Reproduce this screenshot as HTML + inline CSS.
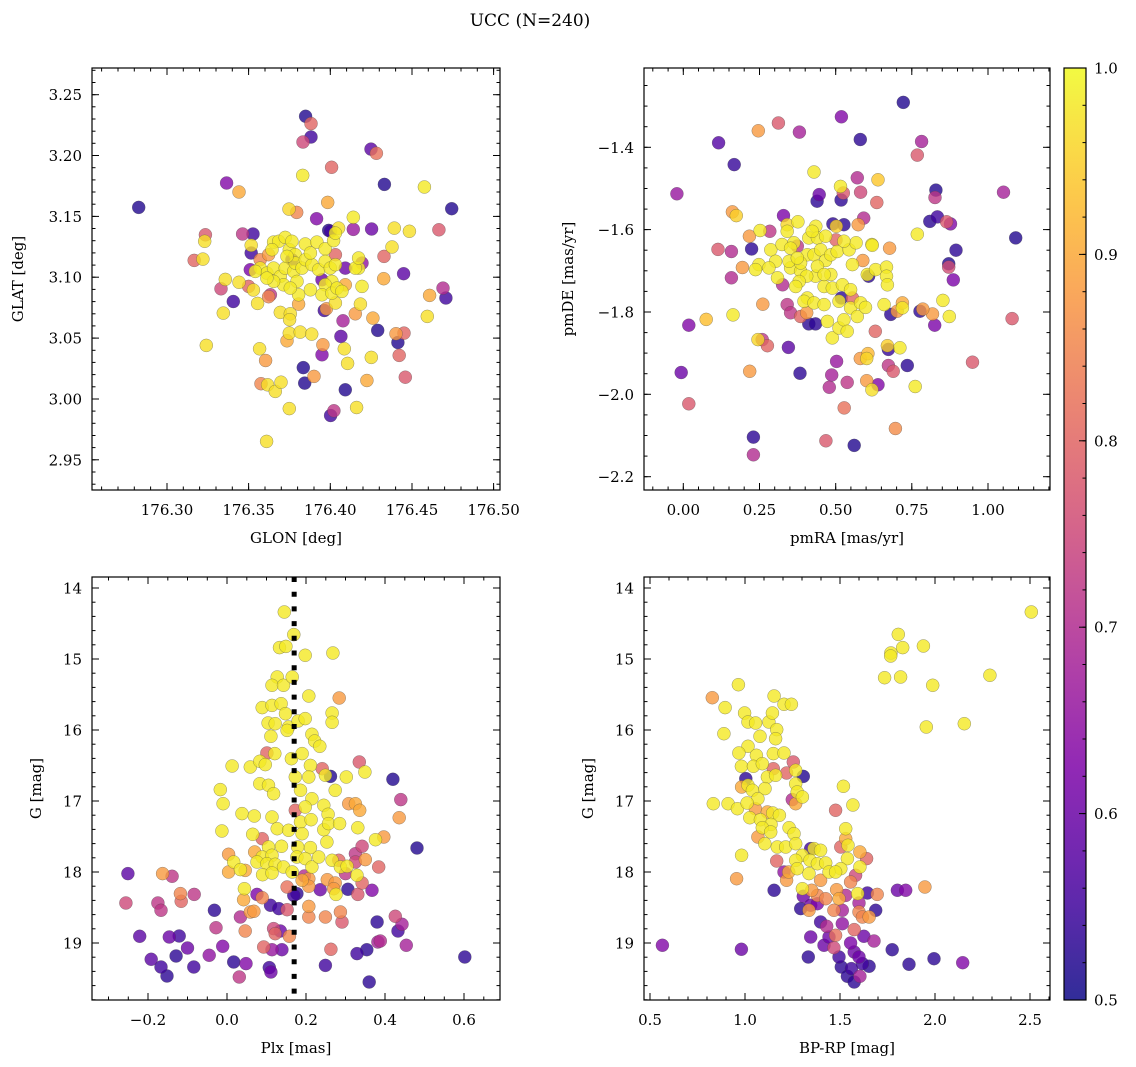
<!DOCTYPE html>
<html><head><meta charset="utf-8"><title>UCC (N=240)</title>
<style>
html,body{margin:0;padding:0;background:#fff;}
svg{display:block;font-family:"DejaVu Serif","Liberation Serif",serif;}
</style></head>
<body>
<svg id="fig" width="1136" height="1067" viewBox="0 0 1136 1067" xmlns="http://www.w3.org/2000/svg">
<text x="530" y="26" text-anchor="middle" font-size="17">UCC (N=240)</text>
</svg>
<script>
// ---- data: [x, y, probability] ----
const tlPts = [
[176.2827,3.1574,.52],[176.3849,3.2322,.52],[176.3882,3.2262,.8],[176.3882,3.2152,.55],[176.3833,3.2111,.75],
[176.4249,3.2053,.58],[176.4282,3.2018,.82],[176.4008,3.1903,.8],[176.3831,3.1837,.98],[176.3365,3.1774,.63],
[176.3441,3.1700,.9],[176.4331,3.1763,.52],[176.4576,3.1741,.98],[176.4743,3.1563,.52],[176.3984,3.1615,.9],
[176.3747,3.1560,.96],[176.3794,3.1533,.85],[176.3916,3.1481,.63],[176.4141,3.1492,.98],[176.4141,3.1393,.66],
[176.4253,3.1396,.6],[176.4392,3.1404,.97],[176.4484,3.1377,.97],[176.4665,3.1390,.78],[176.4002,3.1377,.55],
[176.4051,3.1404,.97],[176.3235,3.1349,.78],[176.3231,3.1295,.97],[176.3463,3.1355,.72],[176.3527,3.1355,.55],
[176.3516,3.1262,.97],[176.3516,3.1199,.55],[176.3167,3.1138,.8],[176.3220,3.1149,.97],[176.4378,3.1248,.97],
[176.4329,3.1171,.8],[176.4449,3.1029,.58],[176.4327,3.0988,.9],[176.4690,3.0911,.7],[176.4708,3.0829,.55],
[176.4608,3.0851,.9],[176.4594,3.0678,.97],[176.3357,3.0982,.97],[176.3331,3.0905,.75],[176.3406,3.0801,.55],
[176.3345,3.0705,.97],[176.3441,3.0958,.97],[176.3500,3.0925,.8],[176.3529,3.0895,.97],[176.3555,3.0785,.97],
[176.3622,3.0840,.85],[176.3633,3.0856,.72],[176.3694,3.0711,.97],[176.3755,3.0700,.97],[176.3751,3.0651,.97],
[176.3806,3.0779,.9],[176.3963,3.0727,.55],[176.3976,3.0741,.88],[176.4031,3.0788,.97],[176.4153,3.0700,.88],
[176.4184,3.0779,.97],[176.4261,3.0664,.9],[176.4078,3.0642,.68],[176.4290,3.0563,.52],[176.4402,3.0536,.88],
[176.4451,3.0541,.8],[176.4414,3.0464,.52],[176.4422,3.0358,.8],[176.4459,3.0179,.78],[176.4065,3.0514,.58],
[176.4086,3.0412,.97],[176.3949,3.0363,.63],[176.3955,3.0445,.88],[176.4106,3.0292,.97],[176.4251,3.0341,.97],
[176.4224,3.0152,.9],[176.4092,3.0075,.52],[176.4161,2.9930,.97],[176.4002,2.9864,.55],[176.4022,2.9903,.72],
[176.3241,3.0440,.97],[176.3567,3.0412,.97],[176.3604,3.0316,.88],[176.3576,3.0125,.85],[176.3616,3.0116,.97],
[176.3663,3.0062,.97],[176.3698,3.0138,.97],[176.3749,2.9921,.97],[176.3610,2.9651,.97],[176.3735,3.0478,.9],
[176.3749,3.0541,.97],[176.3816,3.0549,.97],[176.3886,3.0533,.97],[176.3835,3.0258,.52],[176.3843,3.0130,.52],
[176.3900,3.0185,.88],
[176.3653,3.1289,.98],[176.3684,3.1295,.98],[176.3724,3.1327,.98],[176.3749,3.1226,.98],[176.3786,3.1185,.98],
[176.3847,3.1273,.98],[176.3918,3.1289,.98],[176.3969,3.1234,.98],[176.4020,3.1300,.98],[176.4031,3.1363,.98],
[176.3571,3.1075,.98],[176.3612,3.1034,.98],[176.3653,3.1075,.98],[176.3694,3.1007,.98],[176.3724,3.1075,.98],
[176.3776,3.1048,.98],[176.3786,3.1116,.98],[176.3827,3.1075,.98],[176.3847,3.1144,.98],[176.3888,3.1103,.98],
[176.3929,3.1062,.98],[176.3969,3.1130,.98],[176.4000,3.1075,.98],[176.4031,3.1103,.98],[176.4010,3.0966,.98],
[176.3969,3.0938,.98],[176.3949,3.0856,.98],[176.4010,3.0870,.98],[176.4041,3.0911,.98],[176.4071,3.0884,.98],
[176.3878,3.0897,.98],[176.3806,3.0856,.98],[176.3714,3.0938,.98],[176.3653,3.0966,.98],[176.3612,3.0993,.98],
[176.3541,3.1048,.98],[176.4173,3.1075,.98],[176.4194,3.0925,.98],[176.4153,3.1075,.98],[176.4173,3.1158,.98],
[176.3735,3.1171,.98],[176.3878,3.1199,.98],[176.3796,3.0966,.98],[176.3755,3.0911,.98],[176.3643,3.1226,.98],
[176.3765,3.1295,.98],
[176.3571,3.1144,.85],[176.3622,3.1185,.88],[176.4031,3.1185,.8],[176.4092,3.1075,.6],[176.4194,3.1116,.65],
[176.4092,3.0938,.9],[176.3949,3.0979,.6],[176.3765,3.1144,.55],[176.3510,3.1062,.62],[176.3990,3.1385,.52]
];
const trPts = [
[.722,-1.291,.52],[.519,-1.326,.63],[.312,-1.341,.78],[.246,-1.360,.88],[.381,-1.363,.68],[.116,-1.389,.57],
[.581,-1.381,.53],[.782,-1.386,.68],[.768,-1.419,.78],[.167,-1.442,.54],[.429,-1.460,.98],[-.021,-1.513,.66],
[.571,-1.474,.7],[.639,-1.479,.94],[.516,-1.495,.98],[.525,-1.511,.78],[.582,-1.509,.75],[.446,-1.515,.6],
[.439,-1.531,.53],[.518,-1.528,.53],[.635,-1.534,.8],[.829,-1.504,.52],[.826,-1.522,.72],[1.051,-1.509,.68],
[1.091,-1.620,.52],[.809,-1.580,.53],[.834,-1.569,.55],[.864,-1.581,.78],[.877,-1.586,.63],[.895,-1.650,.53],
[.871,-1.683,.52],[.871,-1.691,.76],[.886,-1.722,.62],[.768,-1.611,.98],[.161,-1.557,.88],[.174,-1.566,.95],
[.329,-1.566,.62],[.592,-1.572,.7],[.574,-1.588,.88],[.491,-1.586,.53],[.527,-1.588,.53],[.502,-1.592,.95],
[.114,-1.648,.78],[.158,-1.653,.7],[.224,-1.647,.53],[.158,-1.717,.7],[.194,-1.692,.88],[.677,-1.645,.88],
[.619,-1.636,.98],[.501,-1.625,.8],[.589,-1.675,.88],[.018,-1.832,.63],[.075,-1.818,.93],[.163,-1.807,.98],
[.261,-1.781,.88],[-.007,-1.947,.6],[.018,-2.023,.78],[.218,-1.944,.88],[.383,-1.949,.53],[.345,-1.886,.58],
[.276,-1.882,.8],[.259,-1.867,.72],[.245,-1.867,.96],[.503,-1.920,.66],[.487,-1.953,.68],[.479,-1.983,.7],
[.538,-1.971,.72],[.528,-2.033,.82],[.468,-2.113,.78],[.561,-2.124,.52],[.230,-2.104,.53],[.230,-2.147,.7],
[.696,-2.083,.86],[.630,-1.847,.8],[.670,-1.882,.95],[.673,-1.891,.54],[.711,-1.887,.98],[.581,-1.913,.88],
[.602,-1.913,.96],[.606,-1.901,.92],[.673,-1.930,.72],[.689,-1.944,.78],[.735,-1.930,.53],[.602,-1.967,.88],
[.639,-1.977,.63],[.619,-1.989,.97],[.761,-1.981,.98],[.949,-1.922,.78],[1.079,-1.816,.78],[.825,-1.832,.62],
[.818,-1.805,.88],[.777,-1.798,.53],[.786,-1.793,.88],[.852,-1.772,.98],[.873,-1.811,.98],[.681,-1.806,.53],
[.702,-1.798,.88],[.719,-1.790,.98],[.719,-1.778,.9],[.659,-1.782,.98],[.412,-1.829,.53],[.434,-1.829,.53],
[.341,-1.782,.72],[.352,-1.802,.72],[.385,-1.811,.8],[.405,-1.802,.88],[.326,-1.734,.7],[.374,-1.640,.72],
[.284,-1.604,.72],[.217,-1.616,.88],[.608,-1.713,.53],[.519,-1.766,.53],[.555,-1.766,.8],
[.252,-1.602,.98],[.341,-1.604,.98],[.376,-1.581,.98],[.435,-1.592,.98],[.412,-1.620,.98],[.440,-1.620,.98],
[.287,-1.649,.98],[.324,-1.636,.98],[.303,-1.677,.98],[.248,-1.685,.98],[.237,-1.697,.98],[.281,-1.693,.98],
[.309,-1.717,.98],[.352,-1.693,.98],[.347,-1.677,.98],[.385,-1.701,.98],[.407,-1.661,.98],[.429,-1.661,.98],
[.451,-1.649,.98],[.467,-1.675,.98],[.484,-1.661,.98],[.505,-1.653,.98],[.544,-1.649,.98],[.567,-1.632,.98],
[.555,-1.685,.98],[.484,-1.709,.98],[.434,-1.713,.98],[.405,-1.713,.98],[.380,-1.726,.98],[.462,-1.738,.98],
[.489,-1.742,.98],[.522,-1.734,.98],[.549,-1.746,.98],[.407,-1.766,.98],[.396,-1.774,.98],[.429,-1.778,.98],
[.462,-1.782,.98],[.511,-1.774,.98],[.549,-1.790,.98],[.571,-1.811,.98],[.582,-1.778,.98],[.598,-1.789,.98],
[.473,-1.823,.98],[.489,-1.863,.98],[.511,-1.839,.98],[.527,-1.819,.98],[.538,-1.847,.98],[.620,-1.638,.98],
[.604,-1.709,.98],[.631,-1.697,.98],[.667,-1.691,.98],[.667,-1.713,.98],[.670,-1.734,.98],[.369,-1.738,.98],
[.363,-1.632,.98],[.423,-1.604,.98],[.467,-1.616,.98],[.527,-1.628,.98],[.352,-1.645,.98],[.385,-1.681,.98],
[.440,-1.689,.98],[.462,-1.709,.98],[.341,-1.588,.96],[.374,-1.669,.98]
];
const blPts = [
[.145,14.338,.98],[.169,14.657,.98],[.133,14.840,.98],[.149,14.822,.98],[.198,14.948,.98],[.268,14.915,.98],
[.127,15.254,.98],[.114,15.371,.98],[.143,15.371,.98],[.165,15.254,.98],[.207,15.521,.98],[.284,15.549,.88],
[.089,15.685,.98],[.114,15.653,.98],[.137,15.629,.98],[.148,15.770,.98],[.266,15.761,.98],[.266,15.892,.98],
[.104,15.901,.98],[.122,15.911,.98],[.156,15.958,.98],[.180,15.873,.98],[.198,15.840,.98],[.111,16.089,.98],
[.152,16.005,.98],[.215,16.061,.98],[.222,16.155,.98],[.235,16.230,.98],[.101,16.324,.8],[.121,16.333,.98],
[.013,16.507,.98],[.059,16.521,.98],[.083,16.441,.98],[.097,16.488,.98],[.163,16.404,.98],[.190,16.333,.98],
[.211,16.498,.98],[.241,16.545,.8],[.249,16.638,.98],[.262,16.653,.52],[.335,16.451,.78],[.349,16.592,.98],
[.302,16.662,.98],[.420,16.695,.52],[.440,16.981,.72],[.436,17.235,.88],[.481,17.662,.52],[-.017,16.840,.98],
[-.010,17.038,.98],[-.013,17.423,.98],[.083,16.756,.98],[.105,16.779,.98],[.118,16.897,.98],[.173,16.662,.98],
[.186,16.850,.98],[.207,16.662,.98],[.215,16.967,.98],[.198,17.085,.98],[.173,17.131,.8],[.245,17.061,.98],
[.256,17.188,.98],[.274,16.850,.98],[.308,17.038,.88],[.325,17.038,.9],[.336,17.131,.9],[.038,17.178,.98],
[.069,17.211,.98],[.114,17.225,.98],[.127,17.390,.98],[.186,17.296,.98],[.213,17.263,.98],[.245,17.404,.98],
[.257,17.319,.98],[.285,17.319,.98],[.331,17.376,.98],[.065,17.469,.98],[.089,17.531,.8],[.156,17.413,.98],
[.190,17.460,.98],[.253,17.577,.98],[.211,17.657,.98],[.179,17.648,.98],[.138,17.638,.98],[.105,17.648,.98],
[.070,17.718,.9],[.089,17.789,.98],[.114,17.765,.98],[.342,17.638,.75],[.325,17.742,.72],[.376,17.545,.98],
[.397,17.507,.88],[.350,17.826,.88],[.004,17.751,.88],[.017,17.859,.98],[.034,17.967,.98],[.004,18.000,.9],
[.046,17.977,.9],[.076,17.859,.98],[.101,17.883,.98],[.122,17.892,.98],[.143,17.930,.98],[.165,18.000,.98],
[.177,17.789,.98],[.198,17.812,.98],[.215,17.930,.98],[.232,17.789,.98],[.266,17.836,.98],[.287,17.930,.98],
[.304,17.920,.98],[.283,17.836,.8],[.325,17.859,.75],[.384,17.930,.8],[.329,18.047,.98],[.342,18.155,.8],
[.300,18.023,.72],[.207,18.094,.88],[.190,18.117,.9],[.254,18.108,.88],[.274,18.155,.88],[.276,18.315,.98],
[.270,18.235,.88],[.207,18.202,.88],[.196,18.056,.7],[.090,18.038,.98],[.114,18.014,.98],[-.251,18.023,.58],
[-.163,18.023,.88],[-.139,18.061,.72],[-.118,18.305,.85],[-.116,18.413,.8],[-.083,18.315,.72],[-.256,18.437,.75],
[-.175,18.437,.72],[-.167,18.540,.72],[-.032,18.540,.53],[.044,18.235,.98],[.042,18.390,.9],[.076,18.315,.62],
[.089,18.362,.85],[.110,18.469,.55],[.131,18.516,.55],[.152,18.211,.82],[.152,18.531,.78],[.169,18.329,.55],
[.177,18.305,.53],[.236,18.249,.6],[.306,18.244,.53],[.331,18.315,.78],[.367,18.258,.63],[.059,18.563,.88],
[.068,18.554,.88],[.034,18.634,.7],[.207,18.484,.88],[.207,18.634,.85],[.249,18.634,.85],[.287,18.563,.85],
[.291,18.704,.78],[.380,18.704,.53],[.426,18.624,.75],[.443,18.737,.68],[.433,18.831,.55],[-.028,18.784,.72],
[.046,18.831,.85],[.118,18.798,.75],[.122,18.869,.8],[.135,18.831,.6],[.158,18.906,.85],[-.221,18.906,.58],
[-.146,18.915,.6],[-.121,18.901,.55],[-.100,19.070,.6],[-.011,19.047,.63],[-.045,19.174,.65],[-.192,19.230,.58],
[-.129,19.183,.53],[-.167,19.338,.55],[-.152,19.465,.53],[-.084,19.338,.55],[.017,19.268,.53],[.048,19.291,.63],
[.031,19.479,.72],[.093,19.056,.8],[.114,19.094,.66],[.139,19.094,.6],[.107,19.347,.55],[.111,19.408,.6],
[.263,19.089,.8],[.249,19.315,.55],[.329,19.150,.55],[.354,19.094,.53],[.382,18.986,.68],[.388,18.972,.7],
[.454,19.033,.68],[.360,19.549,.53],[.602,19.197,.53]
];
const brPts = [
[2.507,14.338,.98],[1.807,14.653,.98],[1.830,14.840,.98],[1.768,14.915,.98],[1.767,14.958,.98],[1.939,14.817,.98],
[1.735,15.263,.98],[1.819,15.254,.98],[1.988,15.371,.98],[2.289,15.230,.98],[1.954,15.958,.98],[2.154,15.911,.98],
[.965,15.362,.98],[.828,15.545,.88],[.895,15.685,.98],[1.153,15.521,.98],[1.205,15.638,.98],[1.244,15.638,.98],
[.998,15.761,.98],[1.016,15.887,.98],[1.056,15.901,.98],[1.126,15.887,.98],[1.144,15.761,.98],[1.167,15.995,.98],
[1.161,16.122,.98],[.889,16.052,.98],[1.079,16.089,.98],[1.016,16.230,.98],[.968,16.324,.98],[1.060,16.357,.98],
[1.149,16.333,.98],[1.205,16.324,.98],[1.254,16.451,.78],[.981,16.512,.98],[1.044,16.512,.98],[1.091,16.474,.98],
[1.149,16.545,.8],[1.219,16.606,.8],[1.267,16.568,.98],[1.307,16.653,.52],[1.004,16.685,.53],[1.118,16.662,.98],
[1.161,16.638,.98],[1.016,16.779,.98],[.982,16.803,.9],[1.039,16.850,.98],[1.105,16.826,.98],[1.267,16.756,.98],
[1.275,16.873,.98],[1.302,16.944,.98],[1.249,16.981,.7],[1.267,17.038,.9],[1.068,16.967,.98],[1.518,16.793,.98],
[1.568,17.056,.98],[1.477,17.131,.8],[.833,17.038,.98],[.911,17.038,.98],[.960,17.108,.98],[1.011,17.028,.98],
[1.054,17.108,.88],[1.118,17.155,.9],[1.025,17.235,.98],[1.081,17.263,.98],[1.146,17.169,.98],[1.181,17.202,.98],
[1.137,17.329,.98],[1.091,17.376,.98],[1.135,17.437,.98],[1.232,17.376,.98],[1.258,17.460,.98],[1.068,17.507,.88],
[1.104,17.601,.98],[1.170,17.648,.98],[1.214,17.648,.98],[1.267,17.601,.98],[.982,17.765,.98],[1.530,17.390,.98],
[1.530,17.531,.9],[1.504,17.648,.8],[1.542,17.624,.98],[1.605,17.718,.9],[1.640,17.812,.8],[1.539,17.812,.98],
[1.605,17.930,.98],[1.504,17.953,.98],[1.582,18.047,.75],[1.556,18.141,.85],[1.346,17.671,.55],[1.363,17.671,.98],
[1.398,17.695,.98],[1.302,17.765,.98],[1.267,17.836,.98],[1.342,17.836,.98],[1.381,17.883,.98],[1.425,17.873,.98],
[1.275,17.953,.98],[1.337,18.023,.98],[1.442,18.000,.98],[1.477,18.000,.98],[1.167,17.845,.8],[1.205,18.000,.65],
[1.230,18.000,.9],[1.219,18.117,.88],[1.398,18.117,.88],[1.302,18.235,.98],[1.307,18.343,.6],[1.351,18.258,.88],
[1.381,18.329,.85],[1.425,18.376,.85],[1.482,18.249,.88],[1.495,18.376,.9],[1.530,18.329,.7],[1.593,18.305,.98],
[1.644,18.296,.55],[1.696,18.315,.85],[1.600,18.437,.68],[1.153,18.258,.53],[.956,18.094,.88],[1.802,18.258,.6],
[1.846,18.258,.63],[1.947,18.211,.88],[1.293,18.516,.53],[1.337,18.540,.88],[1.346,18.469,.6],[1.381,18.446,.62],
[1.468,18.540,.85],[1.512,18.540,.68],[1.600,18.563,.85],[1.618,18.634,.85],[1.653,18.634,.88],[1.688,18.540,.53],
[1.398,18.704,.55],[1.430,18.765,.7],[1.512,18.728,.65],[1.575,18.812,.8],[1.477,18.892,.82],[1.346,18.915,.6],
[1.416,19.033,.6],[1.442,18.915,.6],[1.468,19.066,.75],[1.556,19.000,.62],[1.626,18.906,.6],[1.679,18.972,.68],
[1.575,19.127,.6],[1.495,19.197,.55],[1.333,19.197,.53],[1.600,19.197,.6],[1.618,19.291,.55],[1.653,19.329,.53],
[1.507,19.338,.53],[1.560,19.361,.55],[1.539,19.469,.53],[1.575,19.549,.53],[1.605,19.469,.68],[1.775,19.094,.53],
[1.863,19.300,.53],[1.995,19.221,.53],[2.146,19.277,.63],[.981,19.089,.6],[.565,19.033,.63]
];
const plxLine = [0.17];
const tlXTicks = [176.30,176.35,176.40,176.45,176.50];
const tlYTicks = [2.95,3.00,3.05,3.10,3.15,3.20,3.25];
const trXTicks = [0.00,0.25,0.50,0.75,1.00];
const trYTicks = [-2.2,-2.0,-1.8,-1.6,-1.4];
const blXTicks = [-0.2,0.0,0.2,0.4,0.6];
const gTicks = [14,15,16,17,18,19];
const brXTicks = [0.5,1.0,1.5,2.0,2.5];
const cbTicks = [0.5,0.6,0.7,0.8,0.9,1.0];

const NS = "http://www.w3.org/2000/svg";
const svg = document.getElementById('fig');
function mk(tag, attrs, parent){
  const e = document.createElementNS(NS, tag);
  for (const k in attrs) e.setAttribute(k, attrs[k]);
  (parent||svg).appendChild(e);
  return e;
}
function lin(d0,d1,p0,p1){ return v => p0 + (v-d0)/(d1-d0)*(p1-p0); }
const stops = ["#0d0887","#4c02a1","#7e03a8","#a92395","#cc4778","#e56b5d","#f89540","#fdc328","#f0f921"];
function hex(h){ return [parseInt(h.substr(1,2),16),parseInt(h.substr(3,2),16),parseInt(h.substr(5,2),16)]; }
function plasma(t){
  t = Math.max(0, Math.min(1, t));
  const f = t*(stops.length-1), i = Math.min(stops.length-2, Math.floor(f)), r = f-i;
  const a = hex(stops[i]), b = hex(stops[i+1]);
  return "rgb(" + a.map((v,j)=>Math.round(v+(b[j]-v)*r)).join(",") + ")";
}
const cmin = 0.5, cmax = 1.0;
function fmt(v, d){ const s = v.toFixed(d); return s.replace('-', '\u2212'); }

function panel(cfg){
  const g = mk('g', {});
  
  
  const [L,T,R,B] = cfg.box;
  const sx = lin(cfg.xd[0], cfg.xd[1], L, R);
  const sy = lin(cfg.yd[0], cfg.yd[1], B, T);
  const clipId = 'clip-' + cfg.name;
  const cp = mk('clipPath', {id: clipId}, g);
  mk('rect', {x:L, y:T, width:R-L, height:B-T}, cp);
  const pg = mk('g', {'clip-path':'url(#'+clipId+')'}, g);
  const pts = cfg.pts.slice().sort((a,b)=>a[2]-b[2]);
  pts.forEach(p=>{
    const c = mk('circle', {cx:sx(p[0]).toFixed(1), cy:sy(p[1]).toFixed(1), r:6.5,
      fill:plasma((p[2]-cmin)/(cmax-cmin)), 'fill-opacity':0.8, stroke:'rgba(70,70,70,0.55)', 'stroke-width':0.5}, pg);
    
    
  });
  if (cfg.vline){
    cfg.vline.forEach(v=>{
      const l = mk('line', {x1:sx(v), x2:sx(v), y1:T, y2:B, stroke:'#000', 'stroke-width':5, 'stroke-dasharray':'5,9.7'}, pg);
      
      
    });
  }
  const tg = mk('g', {stroke:'#000', 'stroke-width':1}, g);
  function minorVals(d0,d1,step){ const out=[]; for(let k=Math.ceil(d0/step-1e-9);k<=Math.floor(d1/step+1e-9);k++) out.push(k*step); return out; }
  minorVals(Math.min(...cfg.xd), Math.max(...cfg.xd), cfg.xminor).forEach(v=>{
    const x = sx(v).toFixed(1);
    mk('line',{x1:x,x2:x,y1:B,y2:B-3.5},tg); mk('line',{x1:x,x2:x,y1:T,y2:T+3.5},tg);
  });
  minorVals(Math.min(...cfg.yd), Math.max(...cfg.yd), cfg.yminor).forEach(v=>{
    const y = sy(v).toFixed(1);
    mk('line',{x1:L,x2:L+3.5,y1:y,y2:y},tg); mk('line',{x1:R,x2:R-3.5,y1:y,y2:y},tg);
  });
  cfg.xt.forEach(v=>{
    const x = sx(v).toFixed(1);
    mk('line',{x1:x,x2:x,y1:B,y2:B-7},tg); mk('line',{x1:x,x2:x,y1:T,y2:T+7},tg);
    const t = mk('text',{x:x, y:B+25, 'text-anchor':'middle', 'font-size':15}, g);
    t.textContent = fmt(v, cfg.xdp);
    
    
  });
  cfg.yt.forEach(v=>{
    const y = sy(v);
    mk('line',{x1:L,x2:L+7,y1:y.toFixed(1),y2:y.toFixed(1)},tg); mk('line',{x1:R,x2:R-7,y1:y.toFixed(1),y2:y.toFixed(1)},tg);
    const t = mk('text',{x:L-10, y:(y+5.5).toFixed(1), 'text-anchor':'end', 'font-size':15}, g);
    t.textContent = fmt(v, cfg.ydp);
    
    
  });
  const fr = mk('rect',{x:L, y:T, width:R-L, height:B-T, fill:'none', stroke:'#000', 'stroke-width':1.2}, g);
  
  
  const xl = mk('text',{x:(L+R)/2, y:B+53, 'text-anchor':'middle', 'font-size':15}, g);
  xl.textContent = cfg.xlabel;
  
  
  const yl = mk('text',{x:0, y:0, 'text-anchor':'middle', 'font-size':15, transform:'translate('+cfg.ylx+','+((T+B)/2)+') rotate(-90)'}, g);
  yl.textContent = cfg.ylabel;
  
  
}

panel({name:'glon-glat-panel', box:[92,68,500,490], xd:[176.2541,176.5039], yd:[2.9252,3.2719],
  pts:tlPts, xt:tlXTicks, yt:tlYTicks, xdp:2, ydp:2, xminor:0.01, yminor:0.01,
  xlabel:'GLON [deg]', ylabel:'GLAT [deg]', ylx:23});
panel({name:'pm-panel', box:[644,68,1050,490], xd:[-0.129,1.2035], yd:[-2.2324,-1.2074],
  pts:trPts, xt:trXTicks, yt:trYTicks, xdp:2, ydp:1, xminor:0.05, yminor:0.05,
  xlabel:'pmRA [mas/yr]', ylabel:'pmDE [mas/yr]', ylx:573});
panel({name:'plx-g-panel', box:[92,577,500,1000], xd:[-0.3418,0.6911], yd:[19.803,13.845],
  pts:blPts, xt:blXTicks, yt:gTicks, xdp:1, ydp:0, xminor:0.05, yminor:0.2,
  xlabel:'Plx [mas]', ylabel:'G [mag]', ylx:41, vline:plxLine});
panel({name:'cmd-panel', box:[644,577,1050,1000], xd:[0.4684,2.6053], yd:[19.803,13.845],
  pts:brPts, xt:brXTicks, yt:gTicks, xdp:1, ydp:0, xminor:0.1, yminor:0.2,
  xlabel:'BP-RP [mag]', ylabel:'G [mag]', ylx:593});

// colorbar
(function(){
  const L=1064,R=1086,T=68,B=1000;
  const g = mk('g',{});
  
  
  const defs = mk('defs',{},g);
  const lg = mk('linearGradient',{id:'cbgrad',x1:0,y1:1,x2:0,y2:0},defs);
  for(let i=0;i<=20;i++){ mk('stop',{offset:(i/20),'stop-color':plasma(i/20),'stop-opacity':0.85},lg); }
  mk('rect',{x:L,y:T,width:R-L,height:B-T,fill:'url(#cbgrad)'},g);
  const sy = lin(cmin,cmax,B,T);
  for(let k=25;k<=50;k++){ const v=k*0.02; const y=sy(v).toFixed(1); mk('line',{x1:R,x2:R-3.5,y1:y,y2:y,stroke:'#000'},g); }
  cbTicks.forEach(v=>{
    const y=sy(v);
    mk('line',{x1:R,x2:R-7,y1:y.toFixed(1),y2:y.toFixed(1),stroke:'#000'},g);
    const t = mk('text',{x:R+8,y:(y+5.5).toFixed(1),'font-size':15},g);
    t.textContent = v.toFixed(1);
    
    
  });
  mk('rect',{x:L,y:T,width:R-L,height:B-T,fill:'none',stroke:'#000','stroke-width':1.2},g);
})();
</script>
</body></html>
